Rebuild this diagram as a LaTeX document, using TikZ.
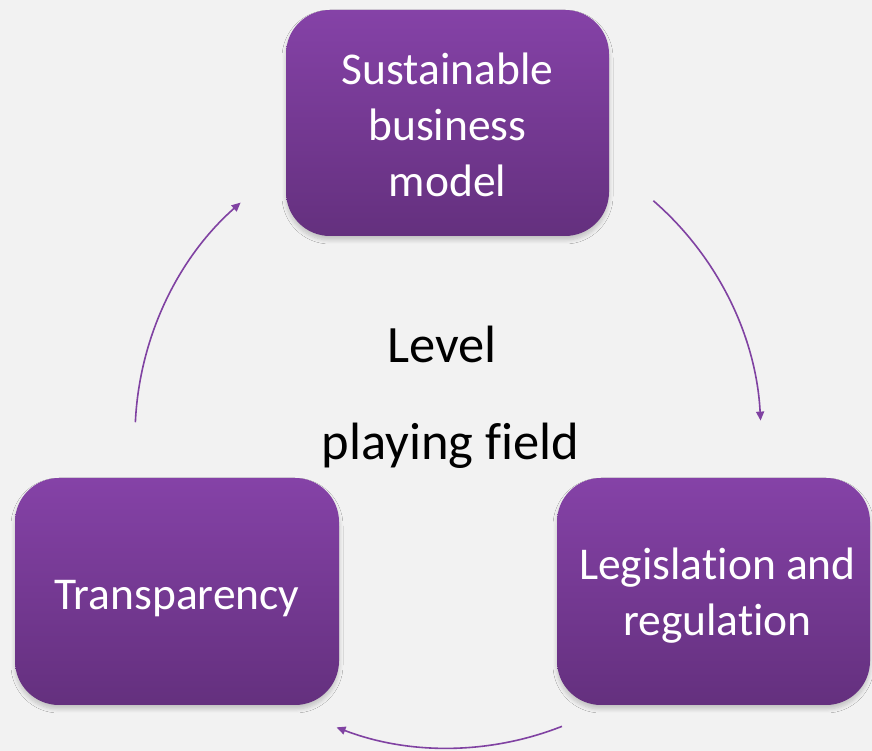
\documentclass[tikz,border=0pt]{standalone}
\usepackage{fontspec}
\setmainfont[Ligatures={NoCommon,NoRequired,NoContextual},RawFeature={-liga;-clig;-calt;-dlig}]{Carlito}
\usetikzlibrary{arrows.meta,shadows.blur,calc}
\definecolor{bg}{RGB}{242,242,242}
\definecolor{boxtop}{RGB}{133,66,167}
\definecolor{boxbot}{RGB}{100,48,126}
\definecolor{arrowc}{RGB}{128,66,162}
\tikzset{
  purplebox/.style={rounded corners=44pt, top color=boxtop, bottom color=boxbot,
    draw=none, inner sep=0pt,
    blur shadow={shadow xshift=0pt, shadow yshift=-4pt, shadow opacity=20, shadow blur radius=4pt, shadow blur steps=8}},
  boxtext/.style={align=center, text=white, inner sep=0pt,
    font=\fontsize{45.5}{56}\selectfont},
  cyclearrow/.style={draw=arrowc, line width=1.6pt, -{Triangle[length=9pt,width=8pt]}},
  centertext/.style={font=\fontsize{52.5}{60}\selectfont, text=black, anchor=base, inner sep=0pt}
}
\begin{document}
\begin{tikzpicture}[x=1pt,y=1pt]
\fill[bg] (0,0) rectangle (872,751);
\useasboundingbox (0,0) rectangle (872,751);
\node[purplebox, minimum width=323pt, minimum height=226pt] (sbm) at (447.5,628) {};
\node[purplebox, minimum width=324pt, minimum height=227pt] (tr) at (177,159.5) {};
\node[purplebox, minimum width=313pt, minimum height=227pt] (lr) at (713.5,159.5) {};
\node[boxtext] (sbmt) at ($(sbm.center)+(0,-2)$) {Sustainable\\business\\model};
\node[boxtext] (trt) at ($(tr.center)+(0,-7)$) {Transparency};
\node[boxtext] (lrt) at ($(lr.center)+(4,-4)$) {Legislation and\\regulation};
\node[centertext] (lvl) at (442,388) {Level};
\node[centertext] (pf) at (450.5,291) {playing field};
\coordinate (c) at (448,314);
\coordinate (a1) at ($(c)+(49:313)$);
\coordinate (a2) at ($(c)+(-68.5:311)$);
\coordinate (a3) at ($(c)+(177.3:313)$);
\draw[cyclearrow] (a1) arc[start angle=49, end angle=3, radius=313];
\draw[cyclearrow] (a2) arc[start angle=-68.5, end angle=-111, radius=311];
\draw[cyclearrow] (a3) arc[start angle=177.3, end angle=131.5, radius=313];
\end{tikzpicture}
\end{document}
